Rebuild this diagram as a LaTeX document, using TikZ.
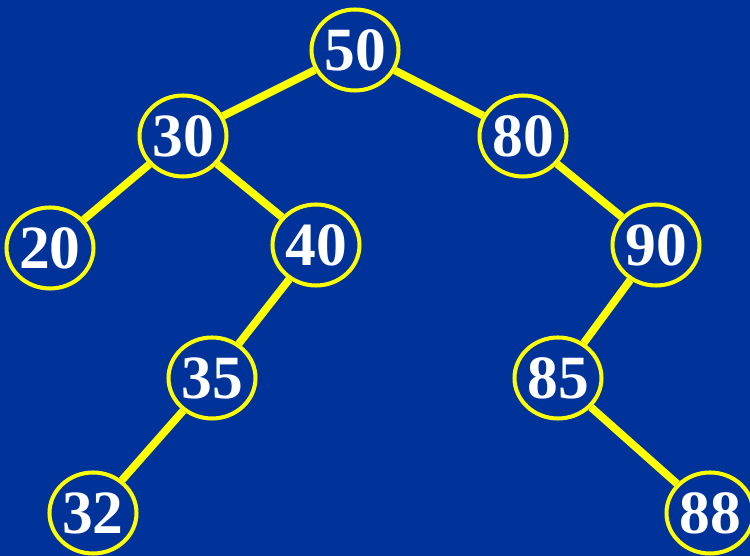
\documentclass[tikz,border=0pt]{standalone}
\usepackage{fontspec}
\setmainfont{Liberation Serif}
\usepackage{tikz}
\usetikzlibrary{shapes.geometric}

\definecolor{slideblue}{RGB}{0,51,153}
\definecolor{ringyellow}{RGB}{255,255,0}

\begin{document}
\begin{tikzpicture}[
  key/.style={ellipse, draw=ringyellow, line width=2.3pt, fill=slideblue,
              minimum width=1.52cm, minimum height=1.62cm, inner sep=0pt,
              text=white, font=\fontsize{35}{35}\selectfont\bfseries},
  link/.style={draw=ringyellow, line width=4.4pt}
]
%% Background
\fill[slideblue] (0,0) rectangle (15,11.12);
\useasboundingbox (0,0) rectangle (15,11.12);

%% Keys
\node[key] at (7.10,10.12) (k50) {50};
\node[key] at (3.66,8.40)  (k30) {30};
\node[key] at (10.46,8.40) (k80) {80};
\node[key] at (1.00,6.16)  (k20) {20};
\node[key] at (6.32,6.22)  (k40) {40};
\node[key] at (13.12,6.22) (k90) {90};
\node[key] at (4.24,3.56)  (k35) {35};
\node[key] at (11.16,3.56) (k85) {85};
\node[key] at (1.86,0.86)  (k32) {32};
\node[key] at (14.20,0.86) (k88) {88};

%% Links
\draw[link] (k50) -- (k30);
\draw[link] (k50) -- (k80);
\draw[link] (k30) -- (k20);
\draw[link] (k30) -- (k40);
\draw[link] (k80) -- (k90);
\draw[link] (k40) -- (k35);
\draw[link] (k35) -- (k32);
\draw[link] (k90) -- (k85);
\draw[link] (k85) -- (k88);
\end{tikzpicture}
\end{document}
